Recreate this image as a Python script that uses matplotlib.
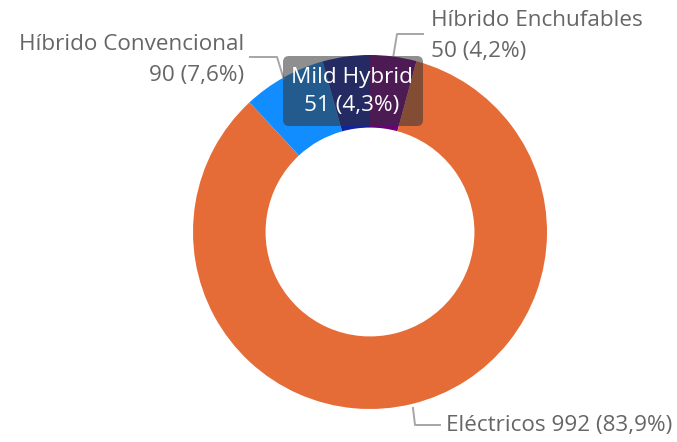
import numpy as np
import matplotlib
matplotlib.use("Agg")
from matplotlib import pyplot as plt
from matplotlib.patches import FancyBboxPatch

# slices in drawing order, clockwise from 12 o'clock
labels = ["Híbrido Enchufables", "Eléctricos", "Híbrido Convencional", "Mild Hybrid"]
values = [50, 992, 90, 51]
colors = ["#6B007B", "#E66C37", "#118DFF", "#12239E"]

plt.rcParams['font.family'] = ['Open Sans', 'DejaVu Sans']

W, H = 677, 442
fig = plt.figure(figsize=(W / 100, H / 100), dpi=100)
ax = fig.add_axes([0, 0, 1, 1])

cx, cy, R = 370, H - 232, 177
wedges, _ = ax.pie(values, colors=colors, startangle=90, counterclock=False,
                   radius=R, center=(cx, cy), frame=True,
                   wedgeprops=dict(width=R * 0.41, linewidth=0))
ax.set_xlim(0, W)
ax.set_ylim(0, H)
ax.set_aspect('equal')
ax.axis('off')

total = sum(values)
def lab(i):
    pct = ("%.1f" % (100.0 * values[i] / total)).replace('.', ',')
    return "%d (%s%%)" % (values[i], pct)

txt = '#666666'
line = '#a6a6a6'
fs = 16.2

def edge(i):
    w = wedges[i]
    a = np.deg2rad((w.theta1 + w.theta2) / 2)
    return cx + R * np.cos(a), cy + R * np.sin(a)

# Híbrido Enchufables (upper right)
ex, ey = edge(0)
ax.plot([ex, 397, 423], [ey + 1, H - 34, H - 34], color=line, lw=1.4)
ax.text(431, H - 21, labels[0], color=txt, fontsize=fs, va='center', ha='left')
ax.text(431, H - 51, lab(0), color=txt, fontsize=fs, va='center', ha='left')

# Híbrido Convencional (upper left)
ex, ey = edge(2)
ax.plot([ex, 277, 250], [ey - 1, H - 57, H - 57], color=line, lw=1.4)
ax.text(244, H - 45, labels[2], color=txt, fontsize=fs, va='center', ha='right')
ax.text(244, H - 75, lab(2), color=txt, fontsize=fs, va='center', ha='right')

# Eléctricos (bottom)
ax.plot([413, 415, 440], [H - 408, H - 425, H - 425], color=line, lw=1.4)
ax.text(446, H - 426, labels[1] + " " + lab(1), color=txt, fontsize=fs,
        va='center', ha='left')

# Mild Hybrid, boxed inside label
box = FancyBboxPatch((283, H - 126), 140, 70,
                     boxstyle="round,pad=0,rounding_size=6",
                     facecolor='#333333', alpha=0.55, edgecolor='none', zorder=5)
ax.add_patch(box)
ax.text(352, H - 78, labels[3], color='white', fontsize=fs, va='center',
        ha='center', zorder=6)
ax.text(352, H - 105, lab(3), color='white', fontsize=fs, va='center',
        ha='center', zorder=6)

fig.savefig('out.png', dpi=100)
